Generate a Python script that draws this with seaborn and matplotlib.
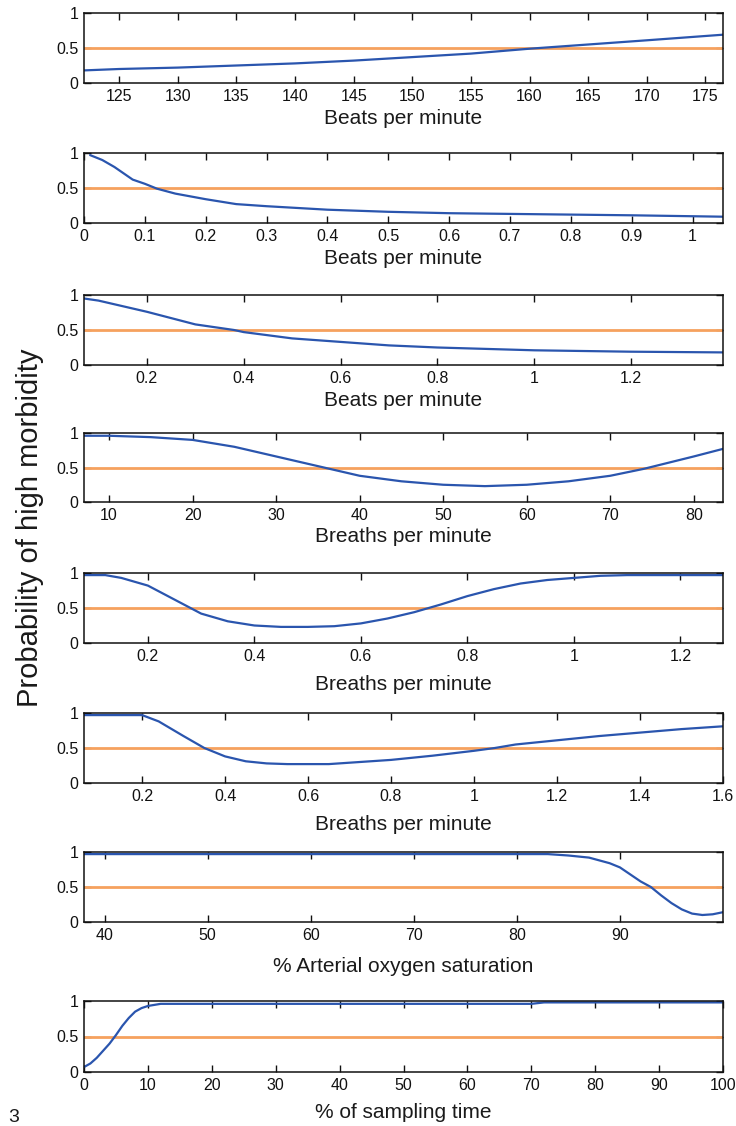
import seaborn as sns
import matplotlib.pyplot as plt

# Panel data (x values, probability of high morbidity)
hr_x = [122, 125, 130, 135, 140, 145, 150, 155, 160, 165, 170, 176.5]
hr_y = [0.18, 0.20, 0.22, 0.25, 0.28, 0.32, 0.37, 0.42, 0.49, 0.55, 0.61, 0.69]

hr_lf_x = [0.01, 0.03, 0.05, 0.08, 0.10, 0.12, 0.15, 0.20, 0.25, 0.30, 0.40, 0.50, 0.60, 0.70, 0.80, 0.90, 1.05]
hr_lf_y = [0.97, 0.90, 0.80, 0.62, 0.56, 0.49, 0.42, 0.34, 0.27, 0.24, 0.19, 0.16, 0.14, 0.13, 0.12, 0.11, 0.09]

hr_hf_x = [0.07, 0.10, 0.20, 0.30, 0.38, 0.40, 0.50, 0.60, 0.70, 0.80, 0.90, 1.00, 1.10, 1.20, 1.39]
hr_hf_y = [0.95, 0.92, 0.76, 0.58, 0.50, 0.47, 0.38, 0.33, 0.28, 0.25, 0.23, 0.21, 0.20, 0.19, 0.18]

rr_x = [7, 10, 15, 20, 25, 30, 35, 40, 45, 50, 55, 60, 65, 70, 74, 80, 83.5]
rr_y = [0.96, 0.96, 0.94, 0.90, 0.80, 0.66, 0.52, 0.38, 0.30, 0.25, 0.23, 0.25, 0.30, 0.38, 0.48, 0.66, 0.77]

rr_lf_x = [0.08, 0.12, 0.15, 0.20, 0.25, 0.28, 0.30, 0.35, 0.40, 0.45, 0.50, 0.55, 0.60, 0.65, 0.70,
           0.75, 0.80, 0.85, 0.90, 0.95, 1.00, 1.05, 1.10, 1.28]
rr_lf_y = [0.97, 0.97, 0.93, 0.82, 0.62, 0.50, 0.42, 0.31, 0.25, 0.23, 0.23, 0.24, 0.28, 0.35, 0.44,
           0.55, 0.67, 0.77, 0.85, 0.90, 0.93, 0.96, 0.97, 0.97]

rr_hf_x = [0.06, 0.20, 0.24, 0.30, 0.35, 0.40, 0.45, 0.50, 0.55, 0.65, 0.70, 0.80, 0.90, 1.00, 1.05,
           1.10, 1.20, 1.30, 1.40, 1.50, 1.60]
rr_hf_y = [0.97, 0.97, 0.88, 0.67, 0.50, 0.38, 0.31, 0.28, 0.27, 0.27, 0.29, 0.33, 0.39, 0.46, 0.50,
           0.55, 0.61, 0.67, 0.72, 0.77, 0.81]

spo2_x = [38, 83, 85, 87, 89, 90, 91, 92, 93, 94, 95, 96, 97, 98, 99, 100]
spo2_y = [0.97, 0.97, 0.95, 0.92, 0.84, 0.78, 0.68, 0.58, 0.50, 0.38, 0.27, 0.18, 0.12, 0.10, 0.11, 0.14]

samp_x = [0, 1, 2, 3, 4, 5, 6, 7, 8, 9, 10, 12, 20, 70, 72, 100]
samp_y = [0.07, 0.12, 0.20, 0.30, 0.40, 0.52, 0.65, 0.76, 0.85, 0.90, 0.93, 0.96, 0.96, 0.96, 0.98, 0.98]

xlabels = ['Beats per minute', 'Beats per minute', 'Beats per minute',
           'Breaths per minute', 'Breaths per minute', 'Breaths per minute',
           '% Arterial oxygen saturation', '% of sampling time']
xlims = [(122, 176.5), (0, 1.05), (0.07, 1.39), (7, 83.5), (0.08, 1.28), (0.06, 1.6), (38, 100), (0, 100)]
xticks = [list(range(125, 176, 5)),
          [0, 0.1, 0.2, 0.3, 0.4, 0.5, 0.6, 0.7, 0.8, 0.9, 1],
          [0.2, 0.4, 0.6, 0.8, 1, 1.2],
          [10, 20, 30, 40, 50, 60, 70, 80],
          [0.2, 0.4, 0.6, 0.8, 1, 1.2],
          [0.2, 0.4, 0.6, 0.8, 1, 1.2, 1.4, 1.6],
          [40, 50, 60, 70, 80, 90],
          [0, 10, 20, 30, 40, 50, 60, 70, 80, 90, 100]]
series = [(hr_x, hr_y), (hr_lf_x, hr_lf_y), (hr_hf_x, hr_hf_y), (rr_x, rr_y),
          (rr_lf_x, rr_lf_y), (rr_hf_x, rr_hf_y), (spo2_x, spo2_y), (samp_x, samp_y)]

sns.set_style("ticks")
plt.rcParams['font.family'] = ['Liberation Sans', 'DejaVu Sans']

W, H = 736, 1126
fig = plt.figure(figsize=(W / 100, H / 100), dpi=100)

# axes boxes in pixels: top, bottom, and where the xlabel sits
tops = [13, 153, 295, 433, 573, 713, 852, 1001]
bottoms = [83, 223, 365, 502, 643, 783, 922, 1072]
label_y = [118, 258, 400, 537, 685, 825, 966, 1113]
left, right = 84, 723

blue = '#2A55AE'
orange = '#F6A15E'

for i, (xs, ys) in enumerate(series):
    ax = fig.add_axes([left / W, 1 - bottoms[i] / H, (right - left) / W, (bottoms[i] - tops[i]) / H])
    ax.axhline(0.5, color=orange, linewidth=2)
    sns.lineplot(x=xs, y=ys, ax=ax, color=blue, linewidth=1.6)
    ax.set_xlim(*xlims[i])
    ax.set_ylim(0, 1)
    ax.set_xticks(xticks[i])
    ax.set_xticklabels([f'{t:g}' for t in xticks[i]])
    ax.set_yticks([0, 0.5, 1])
    ax.set_yticklabels(['0', '0.5', '1'])
    ax.tick_params(direction='in', top=True, right=True, length=5, width=1,
                   labelsize=11.5, pad=4, colors='#111111')
    for sp in ax.spines.values():
        sp.set_linewidth(1.1)
        sp.set_color('#111111')
    fig.text((left + right) / 2 / W, 1 - label_y[i] / H, xlabels[i],
             ha='center', va='center', fontsize=15, color='#1a1a1a')

fig.text(30 / W, 1 - 528 / H, 'Probability of high morbidity', rotation=90,
         ha='center', va='center', fontsize=21, color='#1a1a1a')
fig.text(14 / W, 1 - 1117 / H, '3', ha='center', va='center', fontsize=14, color='#1a1a1a')

fig.savefig('out.png', dpi=100, facecolor='white')
